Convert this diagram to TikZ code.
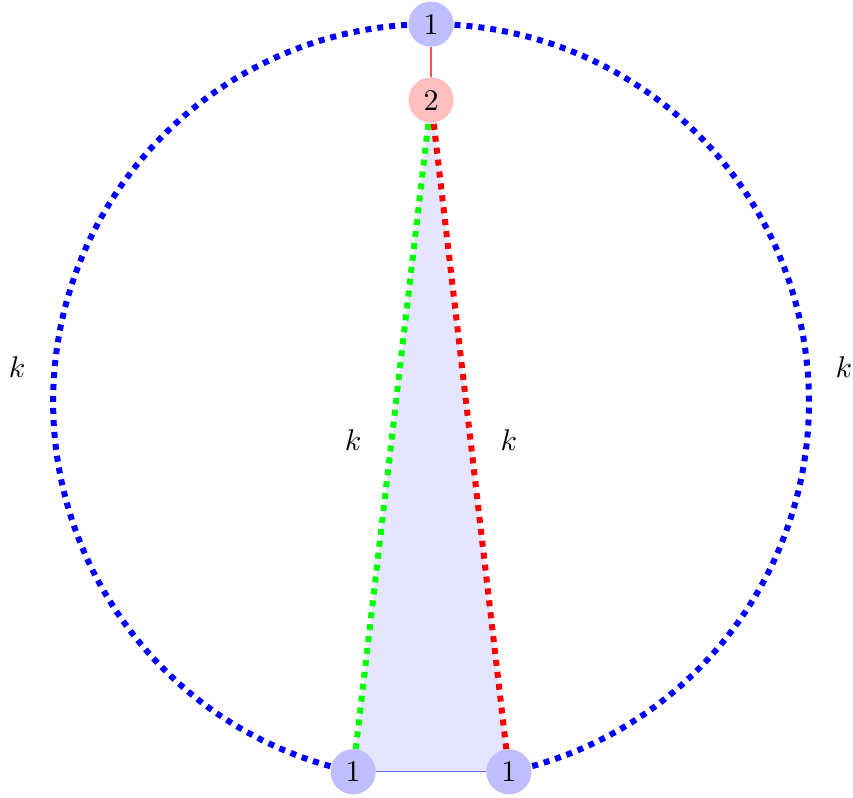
\documentclass[tikz,border=0pt]{standalone}
\usepackage{amsmath}
\usetikzlibrary{backgrounds}
\tikzset{
  vtx/.style={circle, minimum size=5.3mm, inner sep=0pt, fill=blue!25},
  vtxtwo/.style={vtx, fill=red!25},
  kpath/.style={line width=2pt, dash pattern=on 2pt off 2pt},
  klabel/.style={inner sep=0pt}}

\begin{document}
\begin{tikzpicture}
  \useasboundingbox (-5.053,-4.642) rectangle (4.947,4.713);
  \node[vtx] (top) at (90:4.43) {1};
  \node[vtxtwo] (mid) at (0,3.54) {2};
  \node[vtx] (bl) at (258.1:4.43) {1};
  \node[vtx] (br) at (281.9:4.43) {1};
  \node[klabel] (kl) at (-4.853,0.41) {$k$};
  \node[klabel] (kr) at (4.84,0.41) {$k$};
  \node[klabel] (kg) at (-0.914,-0.445) {$k$};
  \node[klabel] (kd) at (0.914,-0.445) {$k$};
  \begin{scope}[on background layer]
    \fill[blue!10] (mid.center) -- (bl.center) -- (br.center) -- cycle;
    \draw[kpath, blue] (top.center) arc[start angle=90, end angle=258.1, radius=4.43];
    \draw[kpath, blue] (br.center) arc[start angle=281.9, end angle=450, radius=4.43];
    \draw[kpath, green] (mid.center) -- (bl.center);
    \draw[kpath, red] (mid.center) -- (br.center);
    \draw[red!70] (top) -- (mid);
    \draw[blue!60] (bl) -- (br);
  \end{scope}
\end{tikzpicture}
\end{document}
